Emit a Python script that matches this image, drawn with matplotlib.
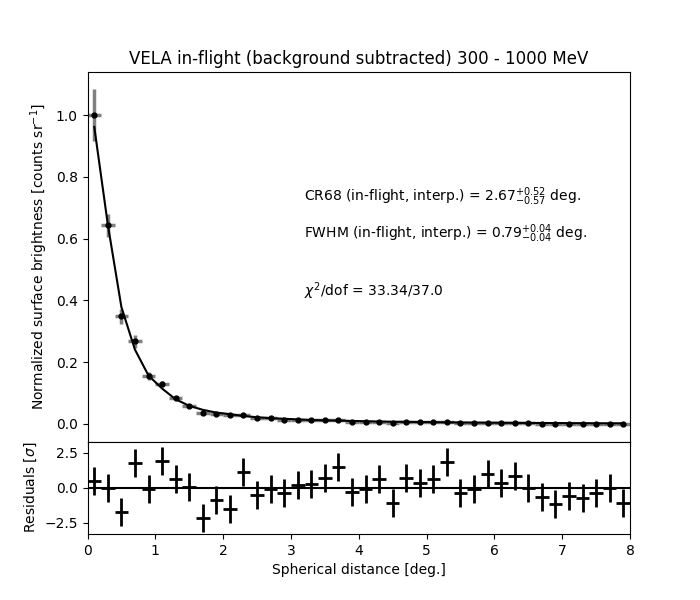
import numpy as np
import matplotlib
matplotlib.use("Agg")
import matplotlib.pyplot as plt

# bin centres [deg.]
theta = [0.1, 0.3, 0.5, 0.7, 0.9, 1.1, 1.3, 1.5, 1.7, 1.9,
         2.1, 2.3, 2.5, 2.7, 2.9, 3.1, 3.3, 3.5, 3.7, 3.9,
         4.1, 4.3, 4.5, 4.7, 4.9, 5.1, 5.3, 5.5, 5.7, 5.9,
         6.1, 6.3, 6.5, 6.7, 6.9, 7.1, 7.3, 7.5, 7.7, 7.9]
theta_err = [0.1] * 40

# normalized surface brightness
surf = [1.0, 0.643, 0.348, 0.267, 0.154, 0.128, 0.084, 0.059, 0.036, 0.032,
        0.027, 0.029, 0.019, 0.017, 0.013, 0.012, 0.012, 0.012, 0.013, 0.0065,
        0.0065, 0.0065, 0.003, 0.005, 0.005, 0.005, 0.0065, 0.002, 0.002, 0.002,
        0.002, 0.002, 0.002, -0.001, -0.001, -0.001, 0.0, 0.0, 0.0, 0.0]
surf_err = [0.084, 0.038, 0.025, 0.02, 0.012, 0.009, 0.007, 0.006, 0.005, 0.005,
            0.004, 0.004, 0.004, 0.004, 0.003, 0.003, 0.003, 0.003, 0.003, 0.003,
            0.003, 0.003, 0.003, 0.003, 0.003, 0.003, 0.003, 0.003, 0.003, 0.003,
            0.003, 0.003, 0.003, 0.003, 0.003, 0.003, 0.003, 0.003, 0.003, 0.003]

# model profile
model = [0.962, 0.645, 0.378, 0.240, 0.156, 0.114, 0.079, 0.058, 0.045, 0.036,
         0.031, 0.025, 0.021, 0.018, 0.016, 0.014, 0.012, 0.011, 0.010, 0.009,
         0.008, 0.007, 0.0065, 0.006, 0.0055, 0.005, 0.0045, 0.004, 0.0037, 0.0034,
         0.0031, 0.0028, 0.0025, 0.0023, 0.0021, 0.0019, 0.0017, 0.0015, 0.0013, 0.0012]

# residuals [sigma]
resid = [0.48, -0.02, -1.71, 1.79, -0.12, 1.95, 0.6, 0.07, -2.14, -0.9,
         -1.48, 1.12, -0.48, -0.12, -0.36, 0.19, 0.29, 0.67, 1.5, -0.29,
         -0.12, 0.6, -1.07, 0.67, 0.36, 0.6, 1.83, -0.36, -0.12, 1.0,
         0.36, 0.83, 0.0, -0.67, -1.19, -0.6, -0.76, -0.36, 0.0, -1.07]
resid_err = [1.0] * 40

fig, (ax, axr) = plt.subplots(2, 1, figsize=(7, 6), dpi=100, sharex=True,
                              gridspec_kw={"height_ratios": [4, 1], "hspace": 0})

ax.errorbar(theta, surf, xerr=theta_err, yerr=surf_err, fmt="o", color="black",
            ecolor="gray", elinewidth=2.5, markersize=3.5, capsize=0)
ax.plot(theta, model, color="black", lw=1.5)
ax.set_ylim(-0.058, 1.14)
ax.set_ylabel("Normalized surface brightness [counts sr$^{-1}$]")
ax.set_title("VELA in-flight (background subtracted) 300 - 1000 MeV")
ax.tick_params(labelbottom=False)

ax.text(3.2, 0.735, r"CR68 (in-flight, interp.) = 2.67$^{+0.52}_{-0.57}$ deg.", va="center")
ax.text(3.2, 0.615, r"FWHM (in-flight, interp.) = 0.79$^{+0.04}_{-0.04}$ deg.", va="center")
ax.text(3.2, 0.43, r"$\chi^2$/dof = 33.34/37.0", va="center")

axr.errorbar(theta, resid, xerr=theta_err, yerr=resid_err, fmt="none",
             ecolor="black", elinewidth=2, capsize=0)
axr.axhline(0, color="black", lw=1.5)
axr.set_ylim(-3.3, 3.3)
axr.set_xlim(0, 8)
axr.set_ylabel(r"Residuals [$\sigma$]")
axr.set_xlabel("Spherical distance [deg.]")

fig.savefig("out.png", dpi=100)
